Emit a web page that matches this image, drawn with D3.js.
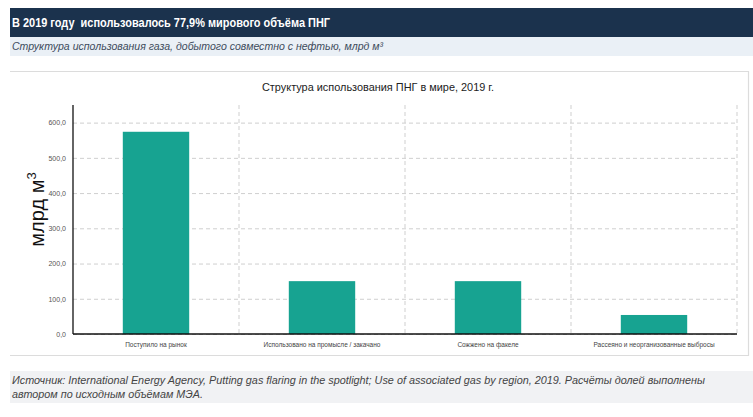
<!DOCTYPE html>
<html>
<head>
<meta charset="utf-8">
<script src="https://cdn.jsdelivr.net/npm/d3@7"></script>
<style>
  body { margin: 0; background: #fff; }
  text { font-family: "Liberation Sans", Arial, sans-serif; }
</style>
</head>
<body>
<div id="chart"></div>
<script>
// Data
const categories = [
    'Поступило на рынок',
    'Использовано на промысле / закачано',
    'Сожжено на факеле',
    'Рассеяно и неорганизованные выбросы'
];
const values = [574, 150, 150, 54];      // млрд м³
const yTicks = [0, 100, 200, 300, 400, 500, 600];

const headerText = 'В 2019 году  использовалось 77,9% мирового объёма ПНГ';
const subtitleText = 'Структура использования газа, добытого совместно с нефтью, млрд м³';
const chartTitle = 'Структура использования ПНГ в мире, 2019 г.';
const footerLines = [
    'Источник: International Energy Agency, Putting gas flaring in the spotlight; Use of associated gas by region, 2019. Расчёты долей выполнены',
    'автором по исходным объёмам МЭА.'
];
const footerWidths = [693, 191];

const width = 753, height = 417;
const margin = { top: 105, right: 16, bottom: 83, left: 73 };
const innerW = width - margin.left - margin.right;
const innerH = height - margin.top - margin.bottom;

const svg = d3.select('#chart').append('svg')
    .attr('width', width)
    .attr('height', height);

// Header band
svg.append('rect').attr('x', 10).attr('y', 8).attr('width', width - 10).attr('height', 29).attr('fill', '#1b324d');
svg.append('text').attr('x', 12).attr('y', 27)
    .style('white-space', 'pre')
    .attr('fill', '#fff').attr('font-size', 12).attr('font-weight', 'bold')
    .attr('textLength', 318).attr('lengthAdjust', 'spacingAndGlyphs')
    .text(headerText);

// Subtitle band
svg.append('rect').attr('x', 10).attr('y', 37).attr('width', width - 10).attr('height', 19).attr('fill', '#eaf0f6');
svg.append('text').attr('x', 12).attr('y', 50)
    .attr('fill', '#3d4b5c').attr('font-size', 11.5).attr('font-style', 'italic')
    .attr('textLength', 371).attr('lengthAdjust', 'spacingAndGlyphs')
    .text(subtitleText);

// Chart frame (top, right, bottom)
svg.append('path')
    .attr('d', 'M10,71.5 H748.5 V355.5 H10')
    .attr('stroke', '#dcdcdc').attr('stroke-width', 1.2).attr('fill', 'none');

svg.append('text').attr('x', 378).attr('y', 91)
    .attr('text-anchor', 'middle').attr('fill', '#222').attr('font-size', 11.5)
    .attr('textLength', 232).attr('lengthAdjust', 'spacingAndGlyphs')
    .text(chartTitle);

// Plot area
const bounds = svg.append('g').attr('transform', `translate(${margin.left},${margin.top})`);

const xScale = d3.scaleBand()
    .domain(categories)
    .range([0, innerW])
    .paddingInner(0.6)
    .paddingOuter(0.3);

const yScale = d3.scaleLinear()
    .domain([0, 650])
    .range([innerH, 0]);

// band boundaries for the vertical grid
const step = innerW / categories.length;
const vLines = d3.range(1, categories.length + 1).map(i => i * step);

bounds.append('g').selectAll('line')
    .data(vLines)
    .join('line')
    .attr('x1', d => d).attr('x2', d => d)
    .attr('y1', 0).attr('y2', innerH)
    .attr('stroke', '#cfcfcf').attr('stroke-dasharray', '4,3');

// y axis with grid lines
const yAxis = d3.axisLeft(yScale)
    .tickValues(yTicks)
    .tickSize(-innerW)
    .tickPadding(7)
    .tickFormat(d => d3.format('.1f')(d).replace('.', ','));

const yAxisG = bounds.append('g').call(yAxis);
yAxisG.select('.domain').remove();
yAxisG.selectAll('.tick line')
    .attr('stroke', '#cfcfcf').attr('stroke-dasharray', '4,3');
yAxisG.selectAll('.tick text')
    .attr('fill', '#555').attr('font-size', 7)
    .attr('font-family', '"Liberation Sans", Arial, sans-serif');

// bars
bounds.selectAll('.bar')
    .data(values)
    .join('rect')
    .attr('class', 'bar')
    .attr('x', (d, i) => xScale(categories[i]))
    .attr('y', d => yScale(d))
    .attr('width', xScale.bandwidth())
    .attr('height', d => innerH - yScale(d))
    .attr('fill', '#17a391');

// x axis
const xAxis = d3.axisBottom(xScale).tickSize(0).tickPadding(8);
const xAxisG = bounds.append('g')
    .attr('transform', `translate(0,${innerH})`)
    .call(xAxis);
xAxisG.select('.domain').remove();
xAxisG.selectAll('.tick text')
    .attr('fill', '#444').attr('font-size', 6.5)
    .attr('font-family', '"Liberation Sans", Arial, sans-serif');

// axis lines
bounds.append('line').attr('x1', 0).attr('x2', 0).attr('y1', 0).attr('y2', innerH)
    .attr('stroke', '#111').attr('stroke-width', 1.3);
bounds.append('line').attr('x1', 0).attr('x2', innerW).attr('y1', innerH).attr('y2', innerH)
    .attr('stroke', '#111').attr('stroke-width', 1.3);

// y axis title
const yTitle = svg.append('text')
    .attr('transform', `translate(44,${margin.top + innerH / 2 - 10}) rotate(-90)`)
    .attr('text-anchor', 'middle')
    .attr('fill', '#111').attr('font-size', 20);
yTitle.append('tspan').text('млрд м');
yTitle.append('tspan').attr('font-size', 13).attr('dy', -8).text('3');

// Footer
svg.append('rect').attr('x', 10).attr('y', 371).attr('width', width - 10).attr('height', 32).attr('fill', '#f1f2f4');
svg.selectAll('.foot')
    .data(footerLines)
    .join('text')
    .attr('class', 'foot')
    .attr('x', 12)
    .attr('y', (d, i) => 384 + i * 14)
    .attr('fill', '#444').attr('font-size', 11.5).attr('font-style', 'italic')
    .attr('textLength', (d, i) => footerWidths[i]).attr('lengthAdjust', 'spacingAndGlyphs')
    .text(d => d);
</script>
</body>
</html>
